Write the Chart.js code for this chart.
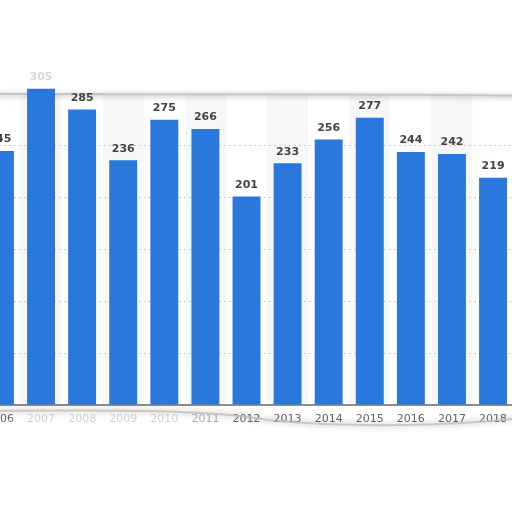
<!DOCTYPE html>
<html lang="en">
<head>
  <meta charset="UTF-8">
  <title>Bar chart 2006-2018</title>
  <script src="https://cdn.jsdelivr.net/npm/chart.js"></script>
  <style>
    html, body { margin:0; padding:0; background:#fff; overflow:hidden; width:512px; height:512px; }
    .wrap { position:absolute; left:-22px; top:0; width:537px; height:435px; }
  </style>
</head>
<body>
  <div class="wrap"><canvas id="chart"></canvas></div>
<script>
const years = ["2006","2007","2008","2009","2010","2011","2012","2013","2014","2015","2016","2017","2018"];
const values = [245, 305, 285, 236, 275, 266, 201, 233, 256, 277, 244, 242, 219];
const yTicks = [0, 50, 100, 150, 200, 250, 300, 350];

const BLUE = '#2b78dc';
// labels that sit under the torn/blurred part of the picture
const faded = ["2007","2008","2009","2010","2011"];

const stripes = {
  id:'stripes',
  beforeDraw(chart){
    const {ctx, scales:{x,y}} = chart;
    const band = x.width / years.length;
    ctx.save();
    ctx.fillStyle = '#f7f7f7';
    years.forEach((yr,i)=>{
      if(i % 2 === 1){
        const cx = x.getPixelForValue(i);
        ctx.fillRect(cx - band/2, y.getPixelForValue(300), band, y.getPixelForValue(0) - y.getPixelForValue(300));
      }
    });
    ctx.restore();
  }
};

const tearTop = {
  id:'tearTop',
  beforeDatasetsDraw(chart){
    const {ctx, scales:{y}} = chart;
    const ty = y.getPixelForValue(300);
    ctx.save();
    ctx.shadowColor = 'rgba(0,0,0,0.35)';
    ctx.shadowBlur = 5;
    ctx.shadowOffsetY = 1;
    ctx.strokeStyle = '#c6c6c6';
    ctx.lineWidth = 2;
    ctx.beginPath();
    ctx.moveTo(0, ty);
    ctx.bezierCurveTo(200, ty + 1, 400, ty - 1, 560, ty + 2);
    ctx.stroke();
    ctx.restore();
  }
};

const valueLabels = {
  id:'valueLabels',
  afterDatasetsDraw(chart){
    const {ctx} = chart;
    const meta = chart.getDatasetMeta(0);
    ctx.save();
    ctx.font = 'bold 11px "DejaVu Sans", sans-serif';
    ctx.textAlign = 'center';
    ctx.textBaseline = 'bottom';
    meta.data.forEach((bar,i)=>{
      ctx.fillStyle = years[i] === "2007" ? '#d6d6d6' : '#444';
      ctx.fillText(values[i], bar.x, bar.y - 6);
    });
    ctx.restore();
  }
};

const tearBottom = {
  id:'tearBottom',
  afterDraw(chart){
    const {ctx} = chart;
    ctx.save();
    ctx.shadowColor = 'rgba(0,0,0,0.4)';
    ctx.shadowBlur = 6;
    ctx.strokeStyle = 'rgba(190,190,190,0.8)';
    ctx.lineWidth = 2;
    ctx.beginPath();
    ctx.moveTo(0, 411);
    ctx.bezierCurveTo(120, 410, 230, 409, 290, 420);
    ctx.bezierCurveTo(360, 427, 470, 428, 560, 416);
    ctx.stroke();
    ctx.restore();
  }
};

new Chart(document.getElementById('chart'), {
  type:'bar',
  data:{
    labels:years,
    datasets:[{
      data:values,
      backgroundColor:BLUE,
      categoryPercentage:1,
      barPercentage:0.68
    }]
  },
  plugins:[stripes, tearTop, valueLabels, tearBottom],
  options:{
    responsive:true,
    maintainAspectRatio:false,
    animation:false,
    layout:{ padding:{ top:42, left:0, right:0, bottom:0 } },
    plugins:{ legend:{display:false}, tooltip:{enabled:false} },
    scales:{
      x:{
        afterFit(s){ s.height = 30; },
        grid:{ display:false, drawTicks:false },
        border:{ color:'#8c8c8c', width:2 },
        ticks:{
          padding:8,
          color(c){ return years[c.index] === "2011" ? '#b0b0b0' : faded.includes(years[c.index]) ? '#d2d2d2' : '#666'; },
          font:{ family:'"DejaVu Sans", sans-serif', size:11 }
        }
      },
      y:{
        min:0, max:350,
        afterFit(s){ s.width = 0; },
        afterBuildTicks(s){ s.ticks = yTicks.map(v=>({value:v})); },
        ticks:{ display:false },
        border:{ display:false, dash:[2,3] },
        grid:{
          drawTicks:false,
          color(c){ return (c.tick.value === 0 || c.tick.value >= 300) ? 'rgba(0,0,0,0)' : '#cfcfcf'; }
        }
      }
    }
  }
});
</script>
</body>
</html>
